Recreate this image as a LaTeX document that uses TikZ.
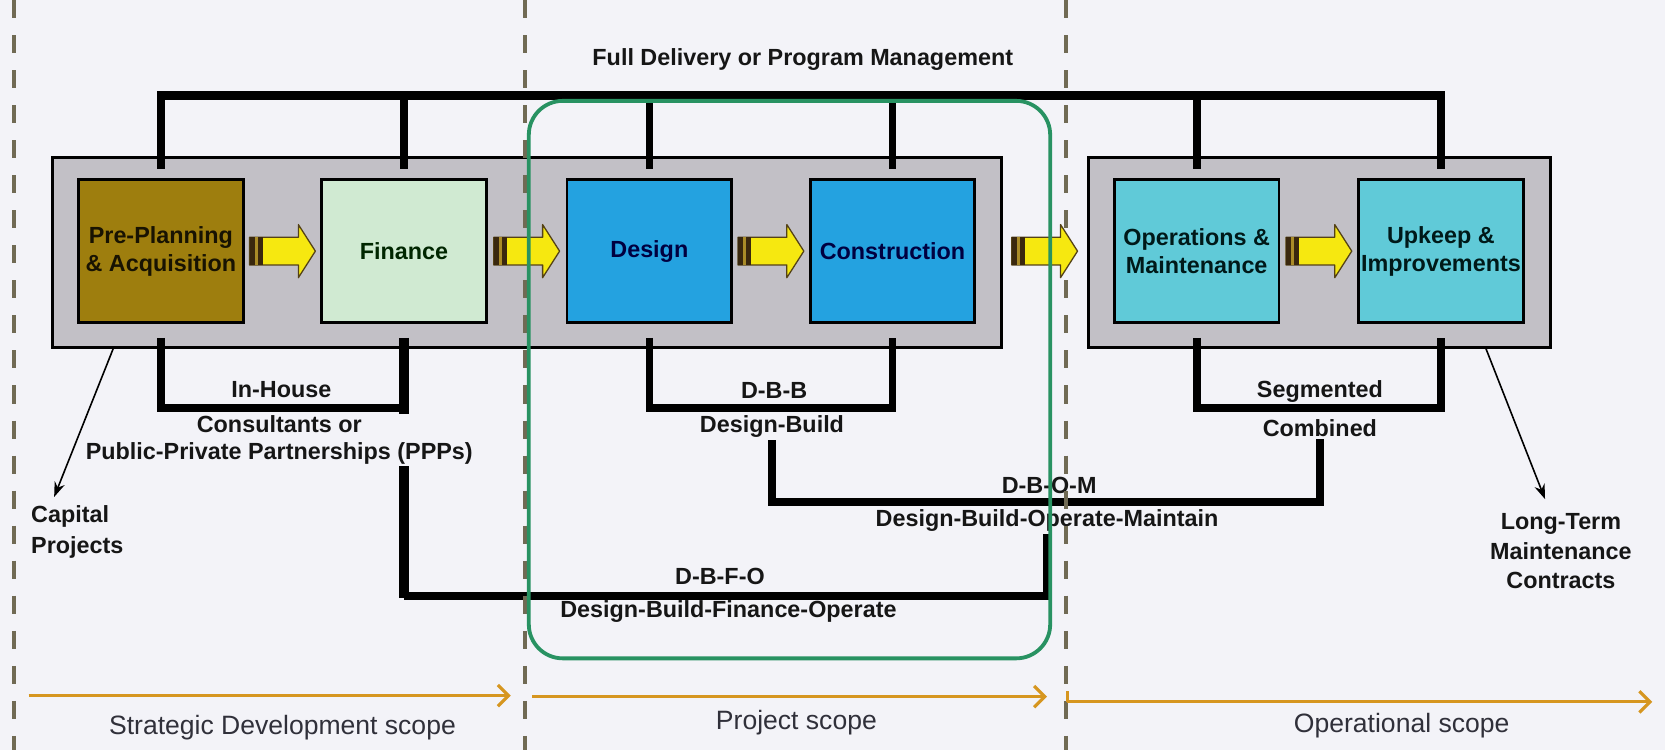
\documentclass[tikz,border=0pt]{standalone}
\usepackage{fontspec}
\setmainfont{Liberation Sans}
\usetikzlibrary{calc,arrows.meta}

\definecolor{bgpaper}{RGB}{243,243,248}
\definecolor{panelgray}{RGB}{194,192,198}
\definecolor{preolive}{RGB}{158,126,14}
\definecolor{finmint}{RGB}{208,234,210}
\definecolor{buildblue}{RGB}{36,162,224}
\definecolor{operteal}{RGB}{96,202,216}
\definecolor{arrowyellow}{RGB}{246,232,16}
\definecolor{arrowedge}{RGB}{84,66,22}
\definecolor{arrowtail}{RGB}{58,40,14}
\definecolor{arrowband}{RGB}{170,140,40}
\definecolor{sepolive}{RGB}{112,106,84}
\definecolor{scopeorange}{RGB}{214,150,32}
\definecolor{scopetext}{RGB}{48,48,58}
\definecolor{projgreen}{RGB}{40,146,98}
\definecolor{labelink}{RGB}{22,22,22}

\tikzset{
  stage/.style={draw=black, line width=1.3pt, minimum width=77.5pt, minimum height=67.5pt,
    inner sep=1pt, align=center, font=\fontsize{11}{13.3}\selectfont\bfseries},
  panel/.style={draw=black, line width=1.4pt, fill=panelgray, minimum height=89.5pt},
  wire/.style={line width=3.6pt},
  lbl/.style={font=\fontsize{11}{12.5}\selectfont\bfseries, text=labelink, inner sep=1pt, align=center},
  scopelbl/.style={font=\fontsize{12.5}{14}\selectfont, text=scopetext},
  scopearrow/.style={draw=scopeorange, line width=1.5pt, -{Straight Barb[length=5pt,width=10pt]}},
  sepline/.style={draw=sepolive, line width=1.7pt, dash pattern=on 8.5pt off 8pt},
  pointer/.style={line width=0.75pt, -{Stealth[length=7pt,width=5pt]}},
  scopebox/.style={draw=projgreen, line width=1.8pt, rounded corners=16pt},
  flowarrow/.pic={
    \draw[fill=arrowyellow, draw=arrowedge, line width=0.6pt, line join=round]
      (-31,-13) -- (15,-13) -- (15,-25) -- (31,0) -- (15,25) -- (15,13) -- (-31,13) -- cycle;
    \fill[arrowband] (-31,-13) rectangle (-18.5,13);
    \fill[arrowtail] (-31,-13) rectangle (-26,13);
    \fill[arrowtail] (-23.5,-13) rectangle (-18.5,13);
  }
}

\begin{document}
\begin{tikzpicture}[x=0.5pt,y=0.5pt,yscale=-1,xscale=1]
\fill[bgpaper] (0,0) rectangle (1568,706);
\useasboundingbox (0,0) rectangle (1568,706);

%Rows for the connectors
\coordinate (busrow) at (0,90);
\coordinate (brackrow) at (0,384);
\coordinate (dbomrow) at (0,473);
\coordinate (dbforow) at (0,561);

%Shape: Rectangle
\draw (496,237.5) node(leftpanel) [panel, minimum width=447pt] {};
%Shape: Rectangle
\draw (1242.5,237.5) node(rightpanel) [panel, minimum width=217.5pt] {};

% Text Node
\draw (151.5,236.5) node(pre) [stage, fill=preolive, text=black!85!preolive] {Pre-Planning\\\& Acquisition};
% Text Node
\draw (380.5,236.5) node(fin) [stage, fill=finmint, text=black!85!green] {Finance};
% Text Node
\draw (611.5,236.5) node(des) [stage, fill=buildblue, text=black!75!blue] {Design};
% Text Node
\draw (840.5,236.5) node(con) [stage, fill=buildblue, text=black!75!blue] {Construction};
% Text Node
\draw (1127,236.5) node(om) [stage, fill=operteal, text=black!80!teal] {Operations \&\\Maintenance};
% Text Node
\draw (1357,236.5) node(up) [stage, fill=operteal, text=black!80!teal] {Upkeep \&\\Improvements};

% Text Node
\draw (756,56) node(fulldel) [lbl] {Full Delivery or Program Management};
% Text Node
\draw (265,367) node(inhouse) [lbl] {In-House};
% Text Node
\draw (729,368) node(dbb) [lbl] {D-B-B};
% Text Node
\draw (727,402) node(dbtxt) [lbl] {Design-Build};
% Text Node
\draw (1243,369) node(segtxt) [lbl] {Segmented};
% Text Node
\draw (1243,403) node(combtxt) [lbl] {Combined};
% Text Node
\draw (988,457) node(dbom) [lbl] {D-B-O-M};
% Text Node
\draw (986,490) node(dbomtxt) [lbl] {Design-Build-Operate-Maintain};
% Text Node
\draw (678,543) node(dbfo) [lbl] {D-B-F-O};
% Text Node
\draw (686,576) node(dbfotxt) [lbl] {Design-Build-Finance-Operate};

%Straight Lines
\draw [wire, line width=4pt] ($(pre.north)+(0,-9)$) -- (pre.north |- busrow) -- (up.north |- busrow) -- ($(up.north)+(0,-9)$);
\foreach \s in {fin,des,con,om}
  \draw [wire] ($(\s.north)+(0,-9)$) -- (\s.north |- busrow);

%Straight Lines
\draw [wire] ($(pre.south)+(0,13)$) -- (pre.south |- brackrow) -- (fin.south |- brackrow);
\draw [wire] ($(des.south)+(0,13)$) -- (des.south |- brackrow) -- (con.south |- brackrow) -- ($(con.south)+(0,13)$);
\draw [wire] ($(om.south)+(0,13)$) -- (om.south |- brackrow) -- (up.south |- brackrow) -- ($(up.south)+(0,13)$);
\draw [wire] (dbtxt.south) -- (dbtxt.south |- dbomrow) -- (combtxt.south |- dbomrow) -- (combtxt.south);
\draw [wire] (fin.south |- dbforow) -- (dbomtxt.south |- dbforow) -- (dbomtxt.south);
\draw [wire, line width=5pt] ($(fin.south)+(0,13)$) -- ($(fin.south |- dbforow)+(0,1.8)$);

% Text Node
\draw (263,414.5) node(ppp) [lbl, fill=bgpaper] {Consultants or\\Public-Private Partnerships (PPPs)};

%Straight Lines
\draw [sepline] (13,0) -- (13,706);
\draw [sepline] (494.5,0) -- (494.5,706);
\draw [sepline] (1004,0) -- (1004,706);

%Block arrows between the stages
\pic at ($(pre.east)!0.5!(fin.west)$) {flowarrow};
\pic at ($(fin.east)!0.5!(des.west)$) {flowarrow};
\pic at ($(des.east)!0.5!(con.west)$) {flowarrow};
\pic at ($(con.east)!0.5!(om.west)$) {flowarrow};
\pic at ($(om.east)!0.5!(up.west)$) {flowarrow};

% Text Node
\draw (27,501) node(capital) [lbl, anchor=west, align=left, font=\fontsize{11}{14.5}\selectfont\bfseries] {Capital\\Projects};
% Text Node
\draw (1470,519) node(longterm) [lbl, font=\fontsize{11}{13.8}\selectfont\bfseries] {Long-Term\\Maintenance\\Contracts};
\coordinate (captip) at (51,468);
\coordinate (longtip) at (1455,470);
\draw [pointer] ($(leftpanel.south west)+(59,0)$) -- (captip);
\draw [pointer] ($(rightpanel.south east)+(-62,0)$) -- (longtip);

%Shape: Rounded Rectangle
\draw [scopebox] (498,95) rectangle (989,620);

%Straight Lines
\draw [scopearrow] (27,655) -- (481,655);
\draw [scopearrow] (501,656) -- (986,656);
\draw [scopearrow, -] (1005,651) -- (1005,661);
\draw [scopearrow] (1005,661) -- (1556,661);

% Text Node
\draw (266,685) node(strat) [scopelbl] {Strategic Development scope};
% Text Node
\draw (750,681) node(proj) [scopelbl] {Project scope};
% Text Node
\draw (1320,683) node(oper) [scopelbl] {Operational scope};

\end{tikzpicture}
\end{document}
